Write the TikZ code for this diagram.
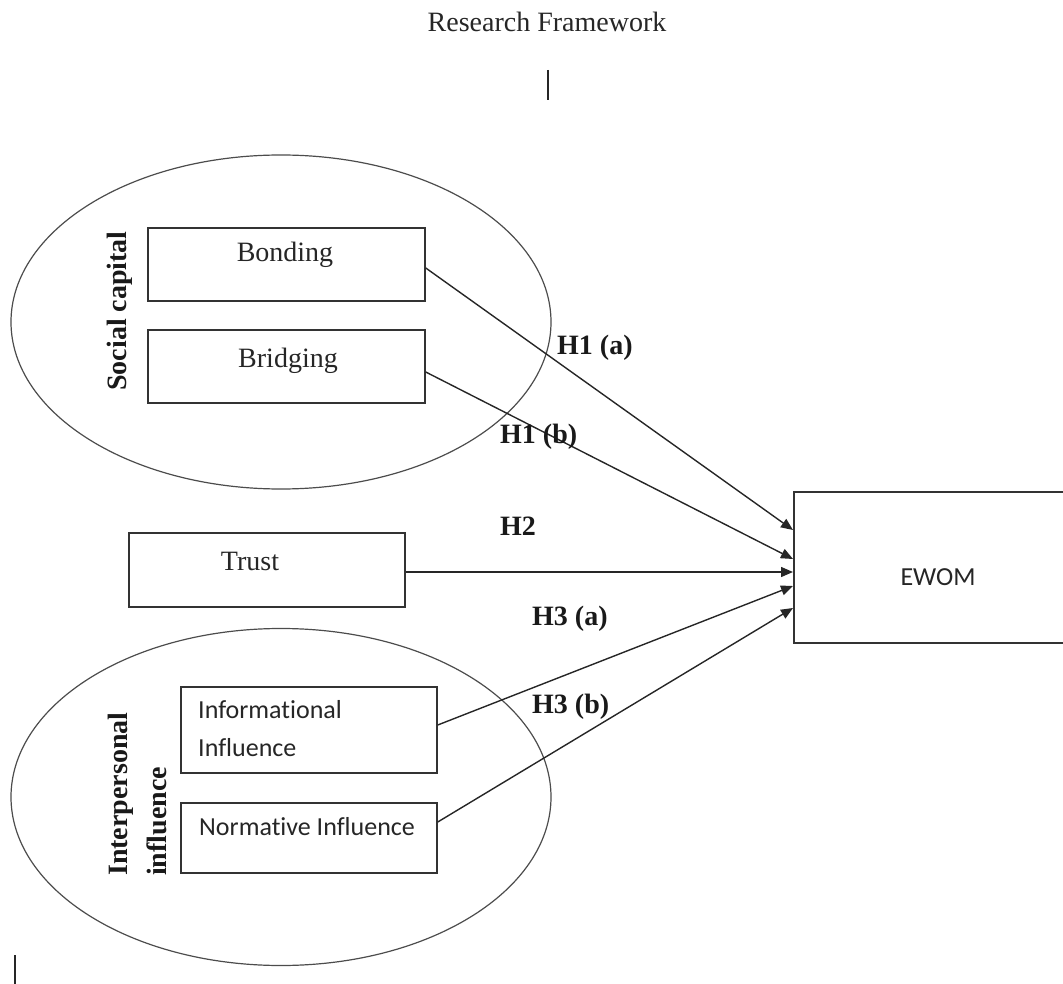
\documentclass[tikz,border=0pt]{standalone}
\usepackage{fontspec}
\setmainfont{Liberation Serif}
\newfontfamily\calib[Ligatures={NoCommon}]{Carlito}
\usetikzlibrary{arrows.meta,shapes.geometric,calc}
\begin{document}
\begin{tikzpicture}[x=1pt,y=-1pt,
  box/.style={draw=black!80, line width=1.5pt, rectangle, inner sep=0pt},
  grp/.style={draw=black!70, line width=1.2pt, ellipse, inner sep=0pt},
  serif/.style={font=\fontsize{28}{34}\selectfont, inner sep=0pt, text=black!85},
  sans/.style={font=\calib\fontsize{26}{38}\selectfont, inner sep=0pt, text=black!85},
  hyp/.style={font=\bfseries\fontsize{28}{34}\selectfont, inner sep=0pt, text=black!90},
  arr/.style={draw=black!85, line width=1.4pt, -{Triangle[length=12pt,width=10pt]}},
  strayline/.style={draw=black!85, line width=1.4pt}
]
\useasboundingbox (0,0) rectangle (1063,984);

% title and stray marks
\node[serif, anchor=base] (title) at (547,32) {Research Framework};
\coordinate (v1) at (548,70); \coordinate (v2) at (548,100);
\draw[strayline] (v1) -- (v2);
\coordinate (w1) at (15,955); \coordinate (w2) at (15,990);
\draw[strayline] (w1) -- (w2);

% group ellipses
\node[grp, minimum width=540pt, minimum height=334pt] (sc) at (281,322) {};
\node[grp, minimum width=540pt, minimum height=337pt] (ii) at (281,797) {};

% boxes
\node[box, minimum width=277pt, minimum height=73pt] (bond) at (286.5,264.5) {};
\node[box, minimum width=277pt, minimum height=73pt] (bridge) at (286.5,366.5) {};
\node[box, minimum width=276pt, minimum height=74pt] (trust) at (267,570) {};
\node[box, minimum width=256pt, minimum height=86pt] (info) at (309,730) {};
\node[box, minimum width=256pt, minimum height=70pt] (norm) at (309,838) {};
\node[box, minimum width=282pt, minimum height=151pt, anchor=west] (ewom) at (793,567.5) {};

% box texts
\node[serif, anchor=base] (tbond) at (285,262) {Bonding};
\node[serif, anchor=base] (tbridge) at (288,367) {Bridging};
\node[serif, anchor=base] (ttrust) at (250,570) {Trust};
\node[sans, anchor=north west, align=left] (tinfo) at (198,700) {Informational\\Influence};
\node[sans, anchor=base west] (tnorm) at (199,835) {Normative Influence};
\node[sans, anchor=base] (tewom) at (938,585) {EWOM};

% group labels
\node[hyp, rotate=90] (tsc) at (120,311) {Social capital};
\node[hyp, rotate=90, anchor=north west, align=left, font=\bfseries\fontsize{28}{39}\selectfont] (tii) at (108,876) {Interpersonal\\influence};

% connectors
\coordinate (e1) at ($(ewom.west)+(0,-37.5)$);
\coordinate (e2) at ($(ewom.west)+(0,-8.5)$);
\coordinate (e4) at ($(ewom.west)+(0,18.5)$);
\coordinate (e5) at ($(ewom.west)+(0,40.5)$);
\coordinate (s1) at ($(bond.east)+(0,3.5)$);
\coordinate (s2) at ($(bridge.east)+(0,5.5)$);
\coordinate (s3) at ($(trust.east)+(0,2)$);
\coordinate (e3) at (s3 -| ewom.west);
\coordinate (s4) at ($(info.east)+(0,-5)$);
\coordinate (s5) at ($(norm.east)+(0,-16)$);
\draw[arr] (s1) -- (e1);
\draw[arr] (s2) -- (e2);
\draw[arr] (s3) -- (e3);
\draw[arr] (s4) -- (e4);
\draw[arr] (s5) -- (e5);

% hypothesis labels
\node[hyp, anchor=base west] (h1a) at (557,355) {H1 (a)};
\node[hyp, anchor=base west] (h1b) at (500,443) {H1 (b)};
\node[hyp, anchor=base west] (h2) at (500,535) {H2};
\node[hyp, anchor=base west] (h3a) at (532,625) {H3 (a)};
\node[hyp, anchor=base west] (h3b) at (532,713) {H3 (b)};
\end{tikzpicture}
\end{document}
